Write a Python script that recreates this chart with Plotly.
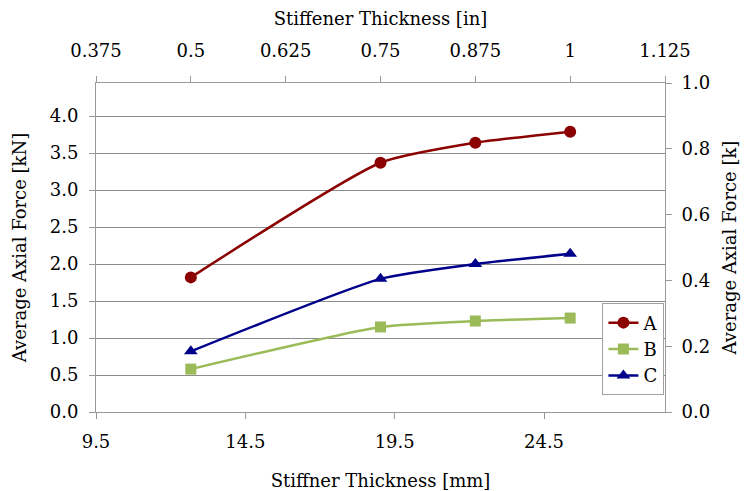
import plotly.graph_objects as go

# Stiffener thickness in inches (the top axis) and measured average axial force in kN
thickness_in = [0.5, 0.75, 0.875, 1.0]
force_a = [1.82, 3.37, 3.64, 3.79]
force_b = [0.58, 1.15, 1.23, 1.27]
force_c = [0.82, 1.80, 2.00, 2.14]

series_names = ["A", "B", "C"]
top_ticks = [0.375, 0.5, 0.625, 0.75, 0.875, 1.0, 1.125]
top_tick_text = ["0.375", "0.5", "0.625", "0.75", "0.875", "1", "1.125"]

MM_PER_IN = 25.4
KN_PER_KIP = 4.448

FONT = "DejaVu Serif"
GRID = "#8c8c8c"
AXIS = "#9a9a9a"

styles = [
    dict(color="#8B0000", symbol="circle", size=12),
    dict(color="#9BBB59", symbol="square", size=11),
    dict(color="#00008B", symbol="triangle-up", size=12),
]

fig = go.Figure()
for name, ys, st in zip(series_names, [force_a, force_b, force_c], styles):
    fig.add_trace(go.Scatter(
        x=thickness_in, y=ys, name=name, mode="lines+markers",
        xaxis="x2", yaxis="y",
        line=dict(color=st["color"], width=2.5, shape="spline", smoothing=0.55),
        marker=dict(color=st["color"], symbol=st["symbol"], size=st["size"]),
    ))

# invisible trace anchoring the mm / kip axes
fig.add_trace(go.Scatter(
    x=[top_ticks[0] * MM_PER_IN], y=[0], xaxis="x", yaxis="y2",
    mode="markers", marker=dict(opacity=0), showlegend=False, hoverinfo="skip",
))

x_lo, x_hi = top_ticks[0], top_ticks[-1]
y_hi_kip = 1.0

common = dict(
    showline=True, linecolor=AXIS, linewidth=1, ticks="outside",
    tickcolor=AXIS, ticklen=6, tickwidth=1, zeroline=False, automargin=False,
    tickfont=dict(family=FONT, size=18, color="#000"),
)
title_font = dict(family=FONT, size=18, color="#000")

fig.update_layout(
    width=747, height=491,
    margin=dict(l=96, r=82, t=83, b=79),
    paper_bgcolor="white", plot_bgcolor="white",
    font=dict(family=FONT, size=18, color="#000"),
    xaxis=dict(
        **common, range=[x_lo * MM_PER_IN, x_hi * MM_PER_IN],
        tick0=x_lo * MM_PER_IN, dtick=5, tickformat=".1f", showgrid=False,
        ticklabelstandoff=7,
        title=dict(text="Stiffner Thickness [mm]", font=title_font, standoff=24),
    ),
    xaxis2=dict(
        **common, range=[x_lo, x_hi], overlaying="x", side="top",
        tickvals=top_ticks, ticktext=top_tick_text, showgrid=False,
        ticklabelstandoff=12,
        title=dict(text="Stiffener Thickness [in]", font=title_font, standoff=9),
    ),
    yaxis=dict(
        **common, range=[0, y_hi_kip * KN_PER_KIP], tick0=0, dtick=0.5,
        tickformat=".1f", showgrid=True, gridcolor=GRID, gridwidth=1,
        ticklabelstandoff=7,
        title=dict(text="Average Axial Force [kN]", font=title_font, standoff=18),
    ),
    yaxis2=dict(
        **common, range=[0, y_hi_kip], tick0=0, dtick=0.2, tickformat=".1f",
        overlaying="y", side="right", showgrid=False,
        ticklabelstandoff=6,
        title=dict(text="Average Axial Force [k]", font=title_font, standoff=14),
    ),
    legend=dict(
        x=0.89, y=0.33, xanchor="left", yanchor="top",
        bgcolor="white", bordercolor="#a0a0a0", borderwidth=1,
        font=dict(family=FONT, size=18), itemwidth=30,
        tracegroupgap=0,
    ),
    showlegend=True,
)

fig.write_html("out.html")
